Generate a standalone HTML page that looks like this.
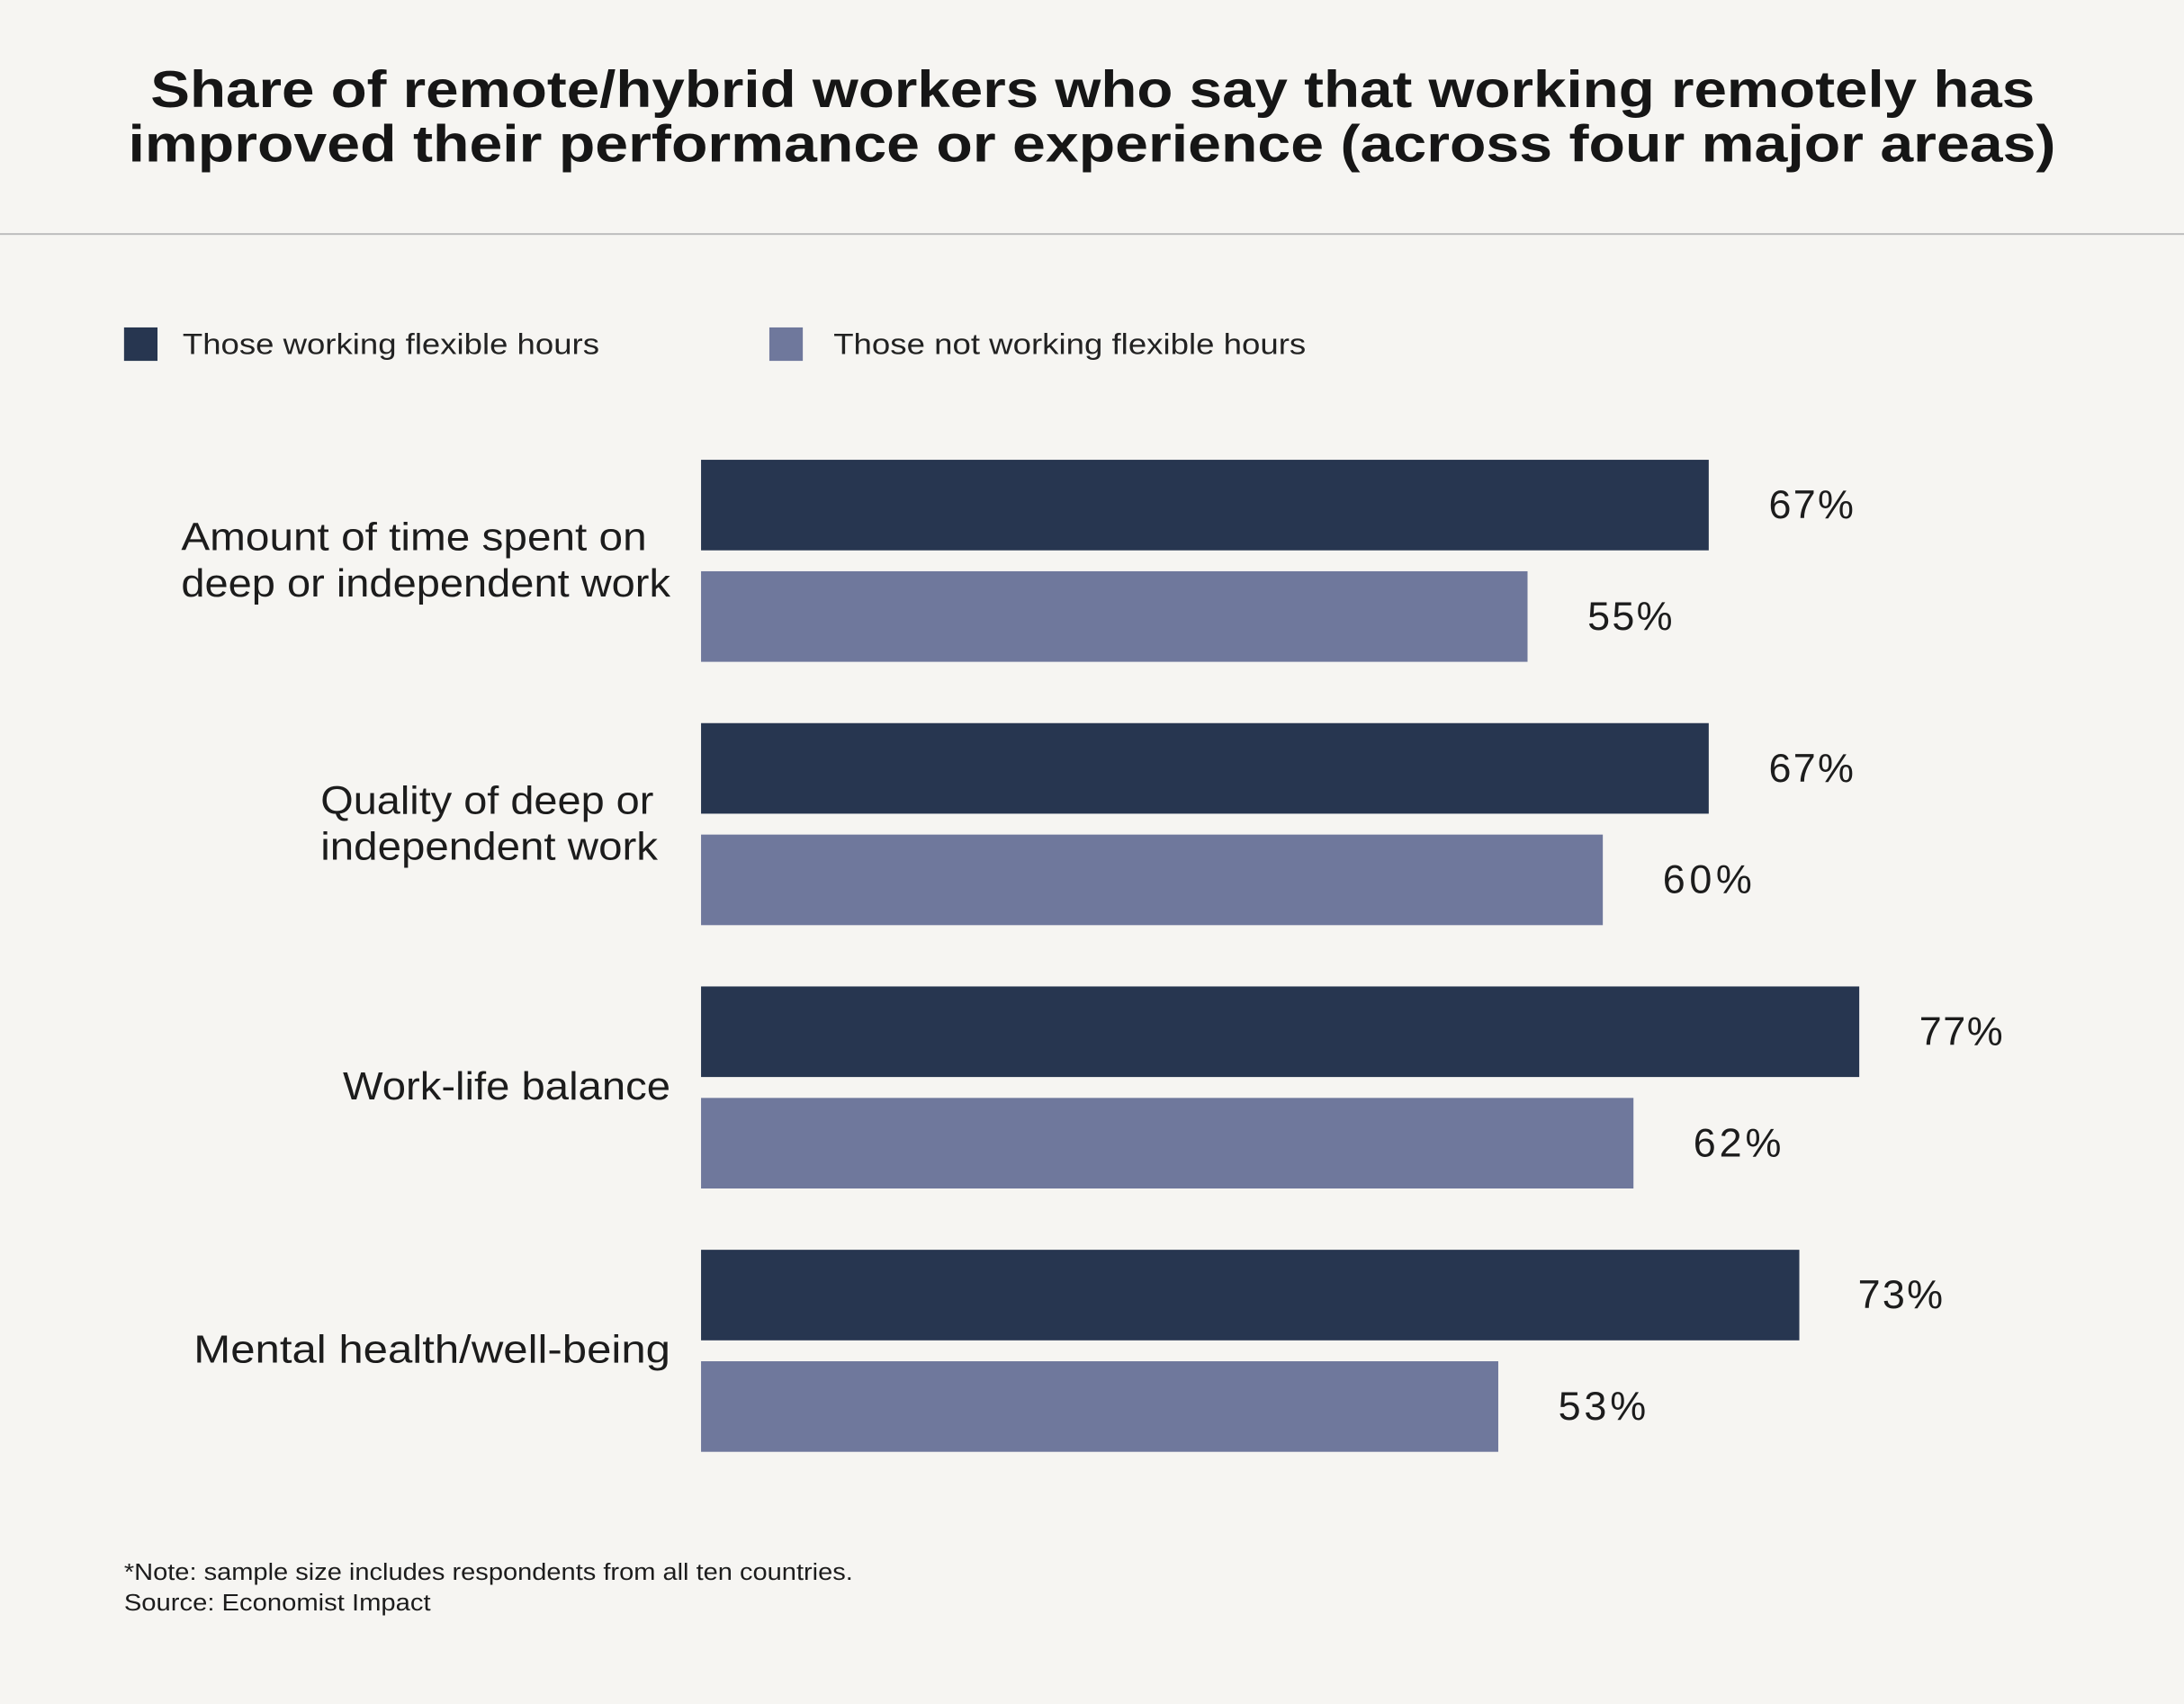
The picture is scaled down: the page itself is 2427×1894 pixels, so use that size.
<!DOCTYPE html>
<html><head><meta charset="utf-8"><style>
html,body{margin:0;padding:0;background:#f6f5f2;}
svg{display:block}
</style></head><body>
<svg width="2427" height="1894" viewBox="0 0 1567 1223" preserveAspectRatio="none" xmlns="http://www.w3.org/2000/svg" font-family="Liberation Sans, sans-serif">
<rect width="1567" height="1223" fill="#f6f5f2"/>
<g font-weight="bold" font-size="37" fill="#161616">
<text x="108" y="77" textLength="1352" lengthAdjust="spacingAndGlyphs">Share of remote/hybrid workers who say that working remotely has</text>
<text x="92" y="116" textLength="1383" lengthAdjust="spacingAndGlyphs">improved their performance or experience (across four major areas)</text>
</g>
<line x1="0" y1="168" x2="1567" y2="168" stroke="#bdbdbd" stroke-width="1.3"/>
<rect x="89" y="235" width="24" height="24" fill="#273650"/>
<text x="131" y="254" font-size="21" fill="#222" textLength="299" lengthAdjust="spacingAndGlyphs">Those working flexible hours</text>
<rect x="552" y="235" width="24" height="24" fill="#6f789c"/>
<text x="598" y="254" font-size="21" fill="#222" textLength="339" lengthAdjust="spacingAndGlyphs">Those not working flexible hours</text>
<g fill="#273650">
<rect x="503" y="330" width="723" height="65"/>
<rect x="503" y="519" width="723" height="65"/>
<rect x="503" y="708" width="831" height="65"/>
<rect x="503" y="897" width="788" height="65"/>
</g>
<g fill="#6f789c">
<rect x="503" y="410" width="593" height="65"/>
<rect x="503" y="599" width="647" height="65"/>
<rect x="503" y="788" width="669" height="65"/>
<rect x="503" y="977" width="572" height="65"/>
</g>
<g font-size="29" fill="#1c1c1c" lengthAdjust="spacingAndGlyphs">
<text x="1269" y="372" textLength="61">67%</text>
<text x="1139" y="452" textLength="61">55%</text>
<text x="1269" y="561" textLength="61">67%</text>
<text x="1193" y="641" textLength="64">60%</text>
<text x="1377" y="750" textLength="60">77%</text>
<text x="1215" y="830" textLength="63">62%</text>
<text x="1333" y="939" textLength="61">73%</text>
<text x="1118" y="1019" textLength="63">53%</text>
</g>
<g font-size="28" fill="#1c1c1c">
<text x="130" y="395" textLength="334" lengthAdjust="spacingAndGlyphs">Amount of time spent on</text>
<text x="130" y="428" textLength="351" lengthAdjust="spacingAndGlyphs">deep or independent work</text>
<text x="230" y="584" textLength="239" lengthAdjust="spacingAndGlyphs">Quality of deep or</text>
<text x="230" y="617" textLength="242" lengthAdjust="spacingAndGlyphs">independent work</text>
<text x="246" y="789" textLength="235" lengthAdjust="spacingAndGlyphs">Work-life balance</text>
<text x="139" y="978" textLength="342" lengthAdjust="spacingAndGlyphs">Mental health/well-being</text>
</g>
<g font-size="17" fill="#1c1c1c">
<text x="89" y="1134" textLength="523" lengthAdjust="spacingAndGlyphs">*Note: sample size includes respondents from all ten countries.</text>
<text x="89" y="1156" textLength="220" lengthAdjust="spacingAndGlyphs">Source: Economist Impact</text>
</g>
</svg>
</body></html>
